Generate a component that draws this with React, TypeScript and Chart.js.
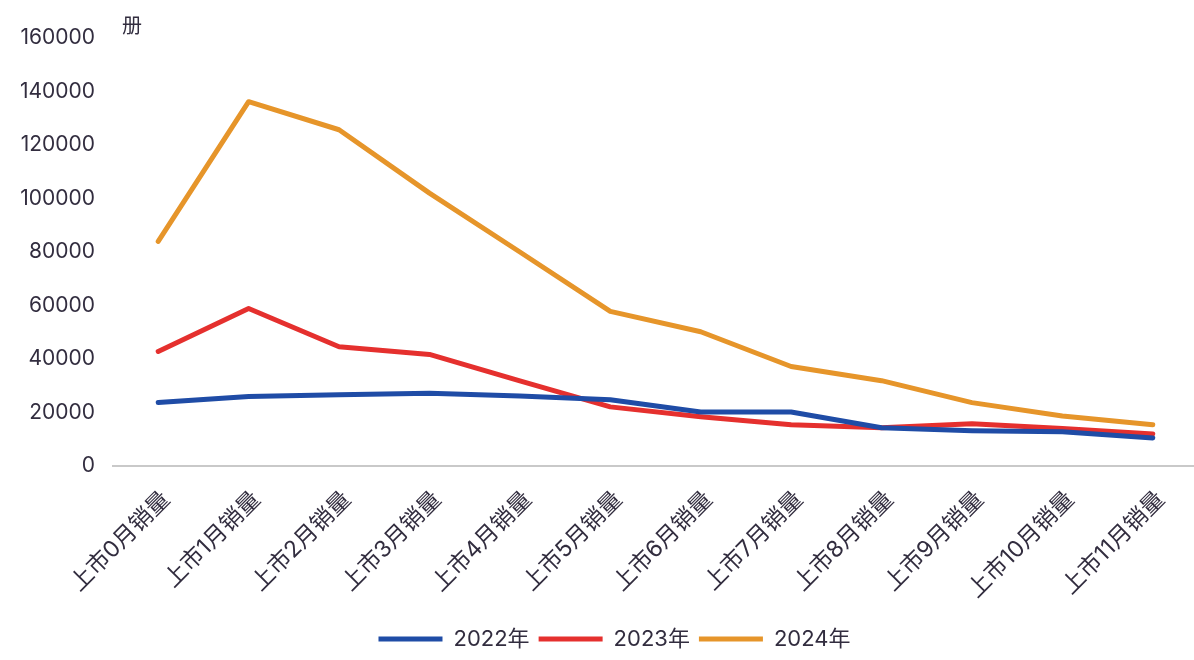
import React, { useEffect, useRef } from "react";
import { Chart, registerables } from "chart.js";

Chart.register(...registerables);

const categories = [
  "上市0月销量", "上市1月销量", "上市2月销量", "上市3月销量", "上市4月销量", "上市5月销量",
  "上市6月销量", "上市7月销量", "上市8月销量", "上市9月销量", "上市10月销量", "上市11月销量",
];
const sales2022 = [23700, 26000, 26600, 27200, 26200, 24800, 20200, 20200, 14300, 13200, 12800, 10500];
const sales2023 = [42800, 58900, 44600, 41700, 31800, 22100, 18400, 15400, 14300, 15800, 14000, 12000];
const sales2024 = [84000, 136200, 125700, 102000, 80000, 57800, 50200, 37200, 31900, 23700, 18700, 15400];
const seriesNames = ["2022年", "2023年", "2024年"];
const yTicks = [0, 20000, 40000, 60000, 80000, 100000, 120000, 140000, 160000];
const unitLabel = "册";

const COLORS = ["#1f4ca6", "#e5302e", "#e6952a"];
const TEXT = "#322d3f";
const FONT = 'Inter, "Liberation Sans", "Noto Sans CJK SC", sans-serif';

export default function App() {
  const ref = useRef<HTMLCanvasElement | null>(null);

  useEffect(() => {
    if (!ref.current) return;
    const unitPlugin = {
      id: "unitLabel",
      afterLayout(chart: any) {
        const l = chart.legend;
        if (l) {
          l.left += 7;
          l.right += 7;
        }
      },
      afterDraw(chart: any) {
        const ctx = chart.ctx;
        ctx.save();
        ctx.fillStyle = TEXT;
        ctx.font = `20px ${FONT}`;
        ctx.textBaseline = "middle";
        ctx.textAlign = "left";
        ctx.fillText(unitLabel, 122, 27);
        ctx.restore();
      },
    };
    const chart = new Chart(ref.current, {
      type: "line",
      data: {
        labels: categories,
        datasets: [sales2022, sales2023, sales2024].map((d, i) => ({
          label: seriesNames[i],
          data: d,
          borderColor: COLORS[i],
          backgroundColor: COLORS[i],
          borderWidth: 5,
          pointRadius: 0,
          tension: 0,
          borderCapStyle: "round" as const,
          borderJoinStyle: "round" as const,
        })),
      },
      options: {
        animation: false,
        responsive: false,
        devicePixelRatio: 1,
        layout: { padding: { top: 38, left: 17, right: 0, bottom: 0 } },
        plugins: {
          tooltip: { enabled: false },
          legend: {
            position: "bottom",
            labels: {
              color: TEXT,
              font: { family: FONT, size: 22, lineHeight: 1 },
              boxWidth: 64,
              boxHeight: 5,
              padding: 9,
              generateLabels(chart: any) {
                const items = Chart.defaults.plugins.legend.labels.generateLabels(chart);
                return items.map((it: any) => ({ ...it, lineWidth: 0, fillStyle: it.strokeStyle }));
              },
            },
          },
        },
        scales: {
          x: {
            grid: { display: false, drawTicks: false },
            border: { display: true, color: "#c9c9c9", width: 2 },
            offset: true,
            ticks: {
              color: TEXT,
              font: { family: FONT, size: 23 },
              minRotation: 45,
              maxRotation: 45,
              autoSkip: false,
              padding: 20,
              labelOffset: 8,
            },
            afterFit(scale: any) {
              scale.height = 153;
            },
          },
          y: {
            min: 0,
            max: 160000,
            grid: { display: false, drawTicks: false },
            border: { display: false },
            afterBuildTicks(scale: any) {
              scale.ticks = yTicks.map((v) => ({ value: v }));
            },
            ticks: {
              color: TEXT,
              font: { family: FONT, size: 21 },
              padding: 18,
              callback: (v: any) => String(v),
            },
            afterFit(scale: any) {
              scale.width = 96;
            },
          },
        },
      },
      plugins: [unitPlugin],
    });
    return () => chart.destroy();
  }, []);

  return (
    <div style={{ position: "fixed", left: 0, top: 0, width: 1194, height: 660, overflow: "hidden", background: "#fff" }}>
      <canvas ref={ref} width={1198} height={660} style={{ width: 1198, height: 660, display: "block" }} />
    </div>
  );
}
